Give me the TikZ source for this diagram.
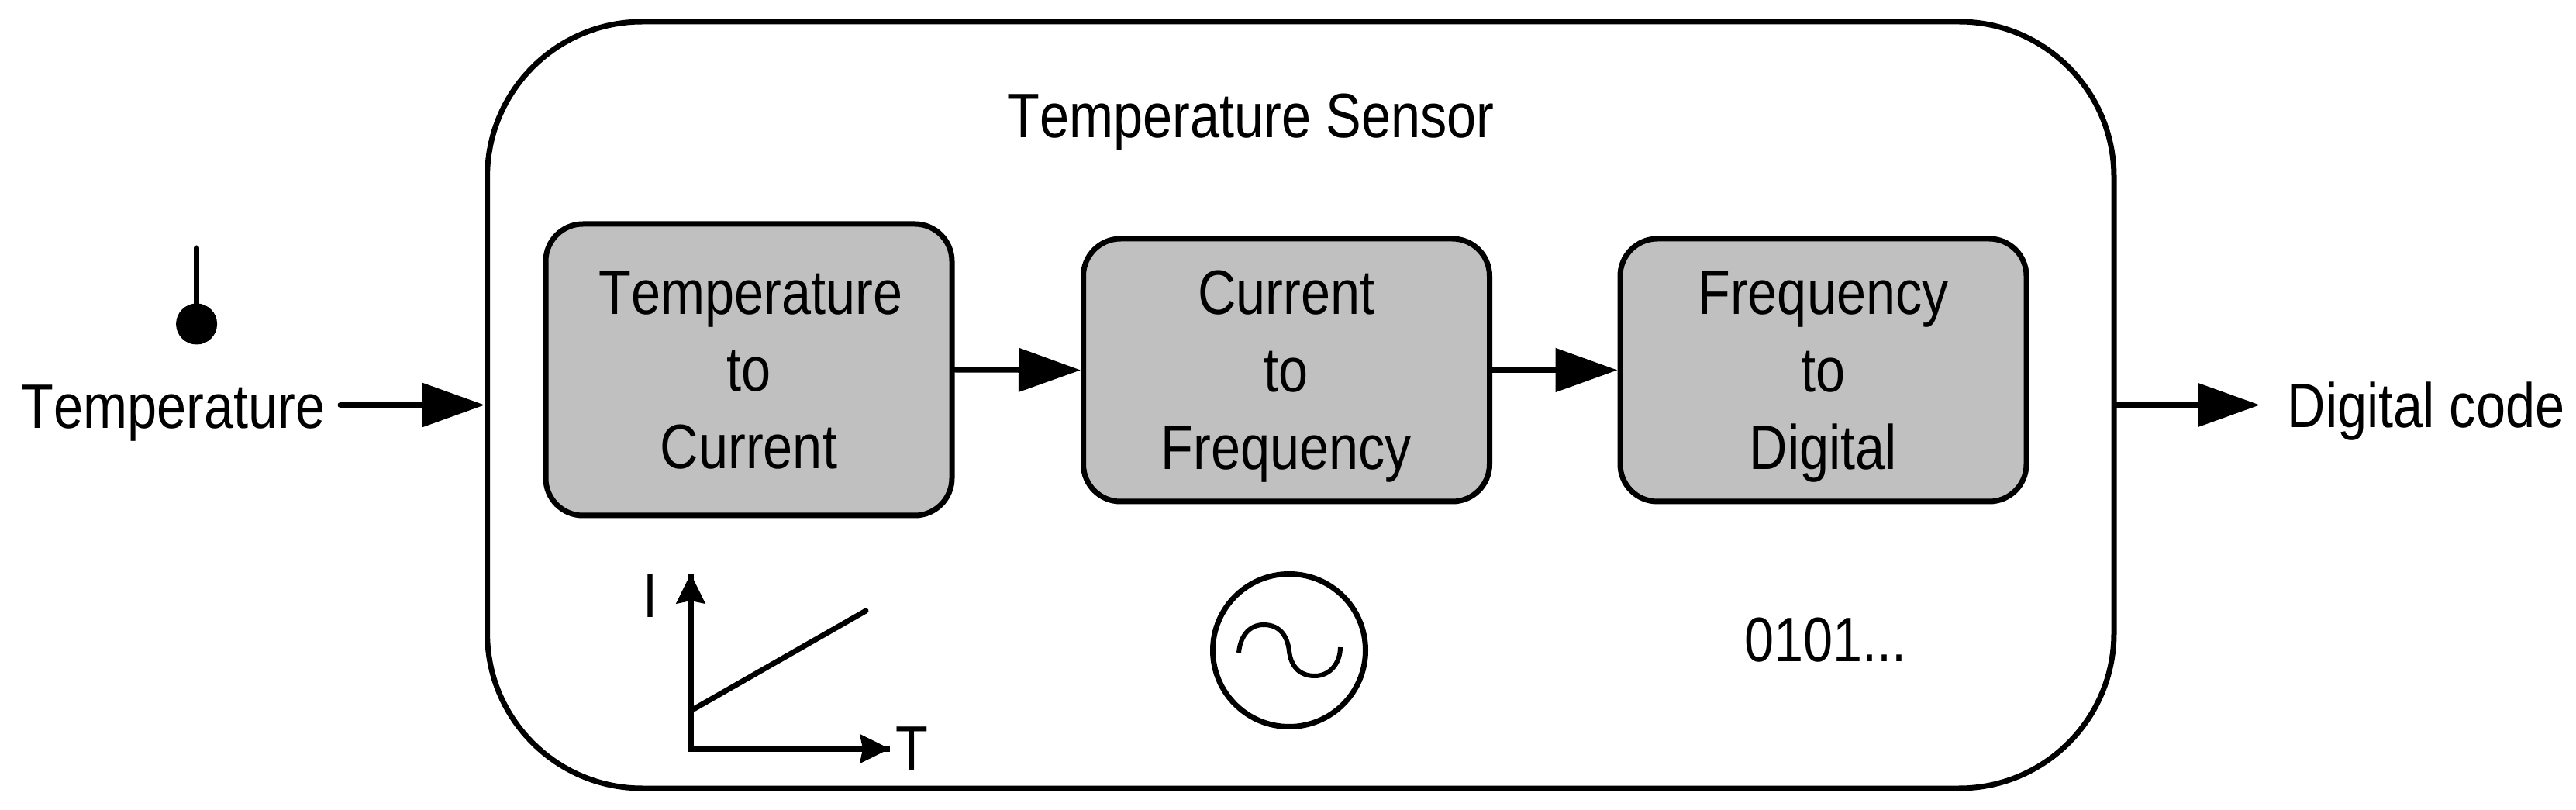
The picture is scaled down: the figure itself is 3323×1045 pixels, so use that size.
\documentclass[tikz,border=0pt]{standalone}
\usepackage{fontspec}
\setmainfont[FakeStretch=0.845,Kerning=Off]{Liberation Sans}
\usetikzlibrary{arrows.meta}
\definecolor{boxgrey}{HTML}{C0C0C0}
\newcommand{\topstrut}{\rule{0pt}{21.9pt}}
\newcommand{\botstrut}{\rule[-5.1pt]{0pt}{5.1pt}}
\tikzset{
  every node/.style={font=\fontsize{24.3}{30}\selectfont,inner sep=0pt},
  lbl/.style={anchor=base west},
  outerbox/.style={draw=black,line width=2.1pt,rounded corners=60pt,minimum width=2098.4*0.3pt,minimum height=989*0.3pt},
  stagebox/.style={draw=black,fill=boxgrey,line width=2.1pt,rounded corners=14.4pt,align=center,minimum width=524*0.3pt},
  conn/.style={line width=2.1pt,line cap=round,-{Triangle[length=24pt,width=16.6pt]}},
  axis/.style={line width=2.1pt,-{Stealth[length=11.5pt,width=11pt,inset=1pt]}},
}
\begin{document}
\begin{tikzpicture}[x=0.3pt,y=-0.3pt]
\useasboundingbox (0,0) rectangle (3323,1045);
% outer block
\node[outerbox] (sensor) at (1677.8,522.5) {};
\node[lbl] (sensortitle) at (1299,178) {Temperature Sensor};
% stages
\node[stagebox,minimum height=376*0.3pt] (s1) at (966,477) {\topstrut\hspace*{1.5pt}Temperature\\to\\Current\botstrut};
\node[stagebox,minimum height=339*0.3pt] (s2) at (1659.5,477.5) {\topstrut Current\\to\\Frequency\botstrut};
\node[stagebox,minimum height=339*0.3pt] (s3) at (2352,477.5) {\topstrut Frequency\\to\\Digital\botstrut};
\draw[conn] (s1.east) -- (s2.west);
\draw[conn] (s2.east) -- (s3.west);
% input and output
\node[lbl] (templabel) at (27,553) {Temperature};
\coordinate (inend) at (439,522.5);
\draw[conn] (inend) -- (sensor.west);
\node[lbl] (codelabel) at (2950,552) {Digital code};
\coordinate (outend) at (2915,522.5);
\draw[conn] (sensor.east) -- (outend);
% thermometer
\coordinate (thermtop) at (253.6,320);
\node[circle,fill=black,minimum size=53*0.3pt] (bulb) at (253.6,418) {};
\draw[line width=2.1pt,line cap=round] (thermtop) -- (bulb.center);
% I-T graph
\coordinate (origin) at (891,966);
\coordinate (itop) at (891,740);
\coordinate (tright) at (1148,966);
\coordinate (lineA) at (891,917);
\coordinate (lineB) at (1117,788);
\draw[line width=2.1pt] (itop) -- (origin) -- (tright);
\draw[axis] (origin) -- (itop);
\draw[axis] (origin) -- (tright);
\draw[line width=2.1pt,line cap=round] (lineA) -- (lineB);
\node[lbl] (ilabel) at (829,797) {I};
\node[lbl] (tlabel) at (1155,993) {T};
% oscillator
\node[circle,draw=black,line width=2.1pt,minimum size=197*0.3pt] (osc) at (1663,839) {};
\coordinate (sineA) at (1598,842);
\coordinate (sineB) at (1630,806);
\coordinate (sineC) at (1663,840);
\coordinate (sineD) at (1696,872);
\coordinate (sineE) at (1729,835);
\draw[line width=1.8pt] (sineA) .. controls (1600,820) and (1612,806) .. (sineB)
  .. controls (1652,806) and (1661,822) .. (sineC)
  .. controls (1665,858) and (1675,872) .. (sineD)
  .. controls (1716,872) and (1729,855) .. (sineE);
% digital code
\node[lbl] (bits) at (2250,853) {0101...};
\end{tikzpicture}
\end{document}
